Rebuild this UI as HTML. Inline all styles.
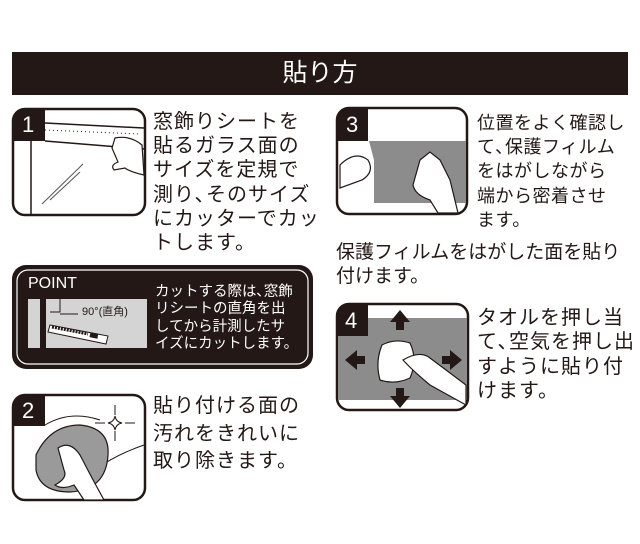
<!DOCTYPE html>
<html><head><meta charset="utf-8"><style>
body{margin:0;width:640px;height:544px;background:#fff;position:relative;overflow:hidden;font-family:"Liberation Sans","Noto Sans CJK JP",sans-serif;color:#231815}
.t{position:absolute;white-space:nowrap}
</style></head><body>
<div style="position:absolute;left:12px;top:52px;width:616px;height:43px;background:#231815"></div>
<div class="t" style="left:0;width:640px;text-align:center;top:57px;font-size:25px;line-height:32px;color:#fff">貼り方</div>

<svg width="640" height="544" style="position:absolute;left:0;top:0">
<!-- box1 -->
<g stroke="#231815" stroke-width="2.5" fill="none">
<rect x="13" y="109" width="132" height="106" rx="12" fill="#fff"/>
</g>
<path d="M13 121 Q13 109 25 109 L45 109 L45 141 L13 141Z" fill="#231815"/>
<line x1="31" y1="141" x2="31" y2="214" stroke="#231815" stroke-width="1.5"/>
<line x1="45" y1="123" x2="144" y2="128" stroke="#231815" stroke-width="1.5"/>
<line x1="45" y1="141" x2="144" y2="149" stroke="#231815" stroke-width="1.5"/>
<path d="M45 130 L140 134" stroke="#231815" stroke-width="1" stroke-dasharray="1 3"/>
<line x1="42" y1="204" x2="83" y2="164" stroke="#555" stroke-width="1"/>
<line x1="50" y1="200" x2="80" y2="172" stroke="#555" stroke-width="1"/>
<path d="M115 138 Q130 135 142 145 L144 175 Q130 172 125 168 L114 170 Q110 165 118 162 L112 148Z" fill="#fff" stroke="#231815" stroke-width="1.2"/>
<!-- POINT -->
<rect x="12" y="265" width="301" height="104" rx="14" fill="#231815"/>
<rect x="17" y="270" width="291" height="94" rx="11" fill="none" stroke="#fff" stroke-width="1.2"/>
<rect x="28" y="299" width="119" height="49" fill="#d4d4d4"/>
<rect x="40" y="299" width="6" height="49" fill="#231815"/>
<path d="M50 312 L60 312 L60 299" stroke="#231815" fill="none" stroke-width="1"/>
<line x1="60" y1="314" x2="78" y2="314" stroke="#231815" stroke-width="1"/>
<path d="M50 325 L108 336 L106 344 L48 332Z" fill="#fff" stroke="#231815" stroke-width="1"/>
<path d="M52 327 L88 334" stroke="#231815" stroke-width="3" stroke-dasharray="2 1"/>
<rect x="90" y="333" width="8" height="5" fill="#231815" transform="rotate(11 94 335)"/>
<!-- box2 -->
<rect x="13" y="395" width="132" height="105" rx="12" fill="#fff" stroke="#231815" stroke-width="2.5"/>
<path d="M13 407 Q13 395 25 395 L45 395 L45 426 L13 426Z" fill="#231815"/>
<path d="M45 425 Q70 410 100 420" stroke="#231815" fill="none" stroke-width="1"/>
<path d="M95 470 Q115 455 144 445" stroke="#231815" fill="none" stroke-width="1"/>
<path d="M36 455 Q50 425 80 425 Q110 428 108 455 Q106 490 70 492 Q40 492 36 470Z" fill="#9a9a9a" stroke="#231815" stroke-width="1.2"/>
<path d="M58 448 Q70 440 80 455 L92 478 L104 500 L84 500 L74 485 Q62 490 55 485 Q68 478 64 470Z" fill="#fff" stroke="#231815" stroke-width="1.2"/>
<g stroke="#231815" stroke-width="1"><line x1="115" y1="405" x2="115" y2="415"/><line x1="115" y1="431" x2="115" y2="441"/><line x1="95" y1="423" x2="105" y2="423"/><line x1="125" y1="423" x2="135" y2="423"/></g>
<path d="M115 416 Q116 422 122 423 Q116 424 115 430 Q114 424 108 423 Q114 422 115 416Z" fill="none" stroke="#231815" stroke-width="1"/>
<!-- box3 -->
<rect x="337" y="108" width="130" height="106" rx="12" fill="#fff" stroke="#231815" stroke-width="2.5"/>
<path d="M369 141 L466 141 L466 203 L374 203 L374 160Z" fill="#8c8c8c"/>
<path d="M337 120 Q337 108 349 108 L368 108 L368 141 L337 141Z" fill="#231815"/>
<path d="M340 165 Q355 150 368 160 Q375 172 362 180 L340 188Z" fill="#fff" stroke="#231815" stroke-width="1.2"/>
<path d="M413 185 L420 160 L430 152 L440 160 L450 180 L458 213 L438 213 L430 200 Q415 195 413 185Z" fill="#fff" stroke="#231815" stroke-width="1.2"/>
<!-- box4 -->
<rect x="337" y="304" width="131" height="106" rx="12" fill="#fff" stroke="#231815" stroke-width="2.5"/>
<rect x="338" y="318" width="129" height="82" fill="#8c8c8c"/>
<path d="M337 316 Q337 305 349 305 L368 305 L368 336 L337 336Z" fill="#231815"/>
<g fill="#231815">
<path d="M400 310 L410 322 L404 322 L404 330 L396 330 L396 322 L390 322Z"/>
<path d="M400 408 L410 396 L404 396 L404 388 L396 388 L396 396 L390 396Z"/>
<path d="M345 360 L357 350 L357 356 L365 356 L365 364 L357 364 L357 370Z"/>
<path d="M462 360 L450 350 L450 356 L442 356 L442 364 L450 364 L450 370Z"/>
</g>
<path d="M382 345 Q395 338 410 343 Q418 360 410 378 Q395 385 380 380 Q375 362 382 345Z" fill="#fff" stroke="#231815" stroke-width="1.2"/>
<path d="M403 360 Q420 350 430 358 L466 385 L466 405 L430 385 Q412 370 403 360Z" fill="#fff" stroke="#231815" stroke-width="1.2"/>
</svg>

<div class="t" style="left:22px;top:110px;font-size:22px;line-height:30px;color:#fff">1</div>
<div class="t" style="left:22px;top:396px;font-size:22px;line-height:30px;color:#fff">2</div>
<div class="t" style="left:346px;top:110px;font-size:22px;line-height:30px;color:#fff">3</div>
<div class="t" style="left:345px;top:306px;font-size:22px;line-height:30px;color:#fff">4</div>

<div class="t" style="left:153px;top:110px;font-size:20px;line-height:24.2px;letter-spacing:1px">窓飾りシートを<br>貼るガラス面の<br>サイズを定規で<br>測り､そのサイズ<br>にカッターでカッ<br>トします。</div>

<div class="t" style="left:28px;top:274px;font-size:16px;line-height:20px;color:#fff">POINT</div>
<div class="t" style="left:82px;top:305px;font-size:11px;line-height:14px">90°(直角)</div>
<div class="t" style="left:155px;top:284px;font-size:14.5px;line-height:17.4px;color:#fff">カットする際は､窓飾<br>リシートの直角を出<br>してから計測したサ<br>イズにカットします。</div>

<div class="t" style="left:153px;top:393px;font-size:20px;line-height:27.5px;letter-spacing:1px">貼り付ける面の<br>汚れをきれいに<br>取り除きます。</div>

<div class="t" style="left:477px;top:111px;font-size:18px;line-height:24.2px;letter-spacing:0.5px">位置をよく確認し<br>て､保護フィルム<br>をはがしながら<br>端から密着させ<br>ます。</div>

<div class="t" style="left:336px;top:241px;font-size:19px;line-height:24px">保護フィルムをはがした面を貼り<br>付けます。</div>

<div class="t" style="left:477px;top:306px;font-size:20px;line-height:24.3px;letter-spacing:1px">タオルを押し当<br>て､空気を押し出<br>すように貼り付<br>けます。</div>
</body></html>
